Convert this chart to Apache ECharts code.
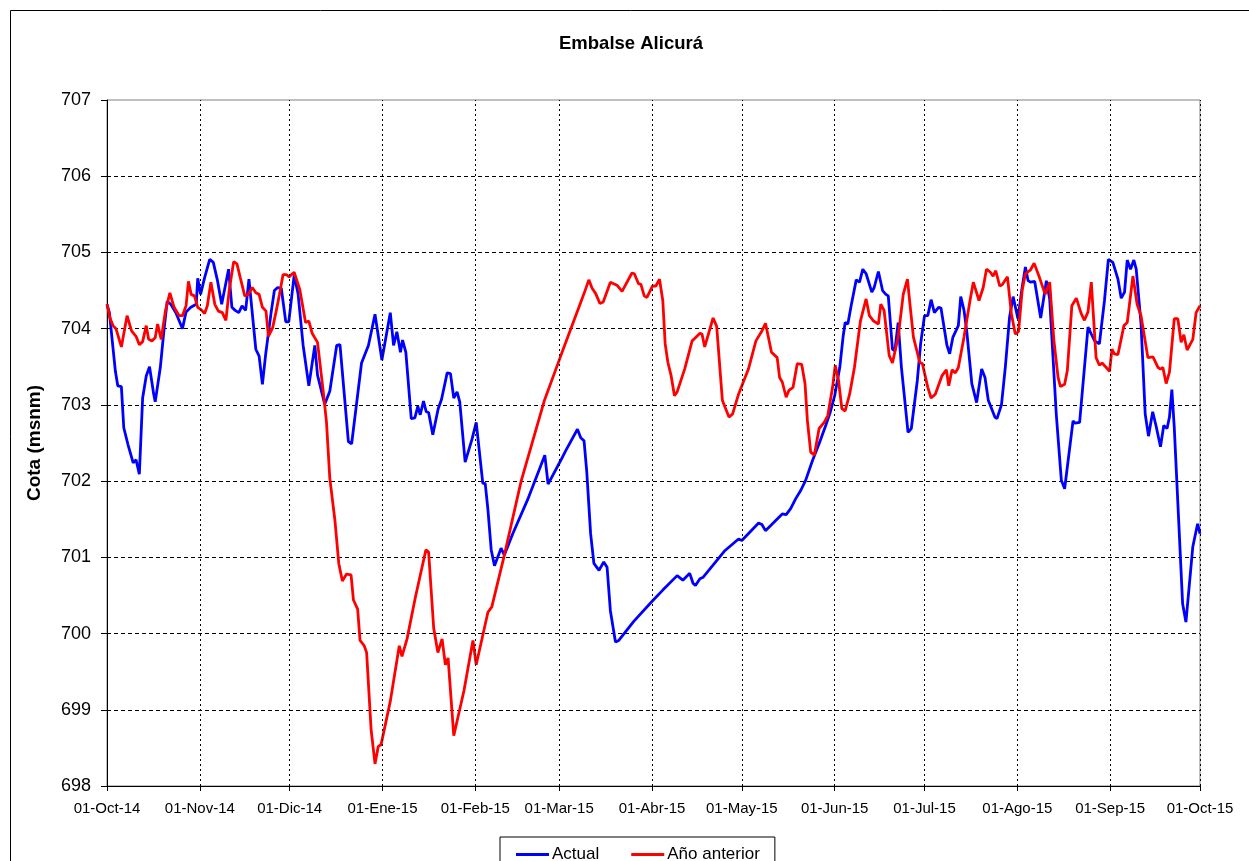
<!DOCTYPE html>
<html>
<head>
<meta charset="utf-8">
<script src="https://cdn.jsdelivr.net/npm/echarts@6/dist/echarts.min.js"></script>
<style>
html,body{margin:0;padding:0;background:#fff;}
#chart{width:1249px;height:861px;}
</style>
</head>
<body>
<div id="chart"></div>
<script>
// Day offsets from 01-Oct-14 and reservoir levels (msnm)
const monthStartDays = [0, 31, 61, 92, 123, 151, 182, 212, 243, 273, 304, 335, 365];
const monthLabels = ['01-Oct-14','01-Nov-14','01-Dic-14','01-Ene-15','01-Feb-15','01-Mar-15','01-Abr-15','01-May-15','01-Jun-15','01-Jul-15','01-Ago-15','01-Sep-15','01-Oct-15'];
const seriesNames = ['Actual', 'Año anterior'];

const actualDays = [0,0.8,2.8,3.6,4.8,5.6,7.0,8.75,9.7,10.8,11.9,13.1,14.2,15.6,16.1,17.8,19.0,20.1,21.3,23.0,25.2,26.4,28.0,29.8,30.3,31.25,32.6,34.3,35.5,36.9,38.3,40.6,41.7,42.8,44.0,45.1,46.3,47.4,48.0,49.7,50.8,51.9,53.0,54.8,55.9,57.0,58.2,59.7,60.7,62.5,63.8,65.5,67.4,69.4,70.3,72.7,74.4,76.7,77.8,80.6,81.7,85.0,87.3,89.5,91.8,94.6,95.7,96.8,98.0,98.7,99.8,101.6,102.8,103.8,104.6,105.7,106.6,107.4,108.8,110.6,111.7,113.6,114.7,115.8,116.9,117.8,119.6,121.9,123.3,125.5,126.3,127.2,128.3,129.4,131.6,132.7,135.5,140.5,146.2,147.3,151.5,153.2,157.1,158.2,159.3,160.2,161.5,162.6,164.3,165.9,167.0,168.1,169.8,170.9,175.9,182.2,185.6,190.4,192.3,194.6,195.7,196.5,198.0,199.1,206.4,210.9,212.0,217.6,218.7,219.9,225.5,226.8,228.3,230.0,231.7,233.3,235.6,237.8,240.1,241.5,243.0,244.7,245.8,246.5,247.4,248.5,250.2,251.3,252.4,253.5,255.4,256.2,257.6,259.0,260.1,260.9,262.3,263.1,264.2,265.3,267.5,268.6,270.6,271.7,273.0,274.1,275.2,276.3,277.7,278.5,280.5,281.4,282.5,284.3,285.1,286.2,287.1,288.8,290.4,292.1,293.2,294.3,296.5,297.2,298.7,300.0,301.4,302.6,304.2,305.6,306.7,307.6,308.4,309.8,311.8,313.7,314.8,317.0,318.7,319.8,322.6,323.3,324.8,327.6,328.7,329.8,331.4,333.1,334.4,335.9,337.6,338.7,339.8,340.7,341.8,342.9,343.7,345.3,346.7,347.8,349.2,350.3,351.8,352.9,354.0,354.8,355.6,356.4,359.2,360.3,362.6,364.2,365];
const actualValues = [704.32,704.21,703.44,703.25,703.24,702.70,702.48,702.24,702.28,702.09,703.09,703.38,703.50,703.14,703.04,703.49,703.97,704.36,704.32,704.21,704.00,704.22,704.28,704.32,704.66,704.45,704.67,704.91,704.87,704.63,704.32,704.78,704.28,704.24,704.21,704.30,704.24,704.65,704.41,703.73,703.64,703.27,703.67,704.21,704.50,704.54,704.53,704.09,704.09,704.70,704.46,703.78,703.25,703.78,703.39,703.01,703.18,703.78,703.79,702.52,702.49,703.55,703.78,704.19,703.59,704.21,703.78,703.96,703.69,703.85,703.69,702.82,702.83,702.98,702.87,703.05,702.91,702.90,702.61,702.95,703.07,703.42,703.41,703.09,703.17,703.04,702.25,702.55,702.77,701.97,701.97,701.63,701.10,700.89,701.12,701.03,701.31,701.76,702.34,701.96,702.27,702.40,702.68,702.57,702.53,702.13,701.31,700.92,700.83,700.94,700.87,700.30,699.89,699.91,700.16,700.43,700.57,700.76,700.70,700.79,700.66,700.63,700.72,700.74,701.09,701.24,701.22,701.45,701.43,701.35,701.57,701.56,701.64,701.77,701.88,702.01,702.27,702.49,702.74,702.90,703.12,703.49,703.89,704.08,704.06,704.30,704.64,704.61,704.78,704.72,704.48,704.54,704.75,704.50,704.45,704.43,703.73,703.71,704.08,703.49,702.64,702.69,703.32,703.80,704.17,704.17,704.38,704.21,704.28,704.27,703.78,703.67,703.89,704.04,704.42,704.24,703.97,703.28,703.03,703.47,703.36,703.06,702.84,702.82,703.00,703.50,704.15,704.42,704.13,704.54,704.81,704.63,704.61,704.62,704.14,704.63,704.39,702.88,702.01,701.90,702.79,702.76,702.77,704.02,703.93,703.84,703.80,704.37,704.91,704.87,704.65,704.40,704.48,704.90,704.78,704.90,704.78,704.07,702.88,702.59,702.91,702.73,702.45,702.73,702.69,702.84,703.20,702.71,700.39,700.15,701.14,701.44,701.31];

const anteriorDays = [0,1,2,3,4.8,6.7,8.2,9.7,10.8,11.9,13.1,13.9,15.0,16.1,16.9,18.1,19.5,21.0,22.4,24.1,25.2,26.4,27.2,28.1,29.2,30.3,31.4,32.6,33.5,34.7,36.0,37.2,38.5,39.7,40.8,42.3,43.4,44.5,46.0,47.2,48.5,49.7,50.8,51.9,53.1,53.9,55.3,56.5,57.6,58.8,59.9,60.8,62.5,64.4,66.3,67.4,68.5,70.3,72.2,73.3,74.4,76.1,77.4,78.6,80.0,81.5,82.3,83.7,84.5,85.9,86.7,88.2,89.5,90.6,91.5,94.6,97.6,98.5,100.2,103.0,106.5,107.4,109.1,110.5,111.9,113.0,113.9,115.8,119.2,122.2,123.3,127.2,128.5,132.7,138.3,146.0,151.5,159.3,160.9,162.0,163.2,164.6,165.7,168.1,170.3,172.0,175.3,176.1,177.5,178.3,179.4,180.3,182.2,183.3,184.5,185.6,186.4,187.3,188.4,189.5,190.4,192.9,195.4,196.5,198.0,198.7,199.6,202.4,203.6,205.5,206.4,207.7,208.9,210.9,214.2,216.7,218.7,219.9,221.9,223.8,224.6,225.5,226.8,227.7,229.1,230.5,232.0,233.1,233.9,235.0,236.2,237.8,239.5,240.7,242.3,243.2,244.3,245.4,246.5,248.0,249.6,251.6,253.5,254.6,256.0,257.6,258.4,259.5,261.2,262.3,264.2,265.9,267.3,268.2,269.3,271.4,272.3,274.1,275.2,276.6,278.8,280.3,281.1,282.2,283.3,284.3,286.2,288.2,289.3,289.9,291.2,292.6,293.7,295.0,295.9,296.8,298.1,299.0,300.7,302.0,303.3,304.4,305.6,306.7,308.4,309.6,311.4,313.3,314.8,316.2,317.6,318.4,319.8,320.7,322.2,323.7,325.3,326.4,327.6,328.7,330.3,331.4,332.3,333.7,334.8,335.6,336.4,337.6,339.6,340.7,342.6,344.0,345.3,347.6,349.3,351.0,351.8,352.6,353.7,354.8,356.4,357.6,358.7,359.6,360.7,362.6,363.7,365.0];
const anteriorValues = [704.32,704.14,704.04,704.00,703.76,704.17,703.97,703.90,703.79,703.83,704.04,703.86,703.84,703.88,704.06,703.86,704.23,704.47,704.28,704.17,704.17,704.30,704.62,704.45,704.43,704.28,704.25,704.20,704.30,704.61,704.32,704.23,704.21,704.11,704.50,704.88,704.85,704.67,704.43,704.45,704.54,704.47,704.45,704.28,704.23,703.90,704.01,704.23,704.45,704.71,704.71,704.68,704.74,704.51,704.08,704.10,703.94,703.82,703.18,702.77,702.04,701.49,700.92,700.69,700.78,700.77,700.44,700.32,699.91,699.84,699.75,698.74,698.29,698.52,698.54,699.11,699.84,699.70,699.93,700.48,701.10,701.07,700.07,699.75,699.93,699.59,699.68,698.66,699.25,699.91,699.59,700.28,700.35,701.03,702.00,703.05,703.64,704.46,704.64,704.53,704.46,704.33,704.35,704.61,704.57,704.49,704.73,704.72,704.59,704.58,704.43,704.41,704.56,704.56,704.65,704.37,703.80,703.56,703.38,703.12,703.17,703.47,703.84,703.88,703.94,703.93,703.76,704.14,704.03,703.06,702.97,702.84,702.88,703.14,703.47,703.84,703.97,704.07,703.69,703.62,703.36,703.30,703.10,703.19,703.23,703.54,703.53,703.28,702.79,702.38,702.34,702.69,702.77,702.86,703.23,703.52,703.32,702.95,702.92,703.14,703.49,704.10,704.39,704.17,704.10,704.06,704.32,704.24,703.65,703.55,703.89,704.45,704.65,704.30,703.89,703.56,703.54,703.23,703.09,703.14,703.38,703.46,703.25,703.46,703.42,703.49,703.89,704.37,704.61,704.60,704.37,704.54,704.78,704.74,704.69,704.76,704.56,704.58,704.68,704.20,703.93,703.96,704.50,704.72,704.77,704.86,704.67,704.45,704.61,703.85,703.36,703.24,703.27,703.45,704.30,704.40,704.20,704.11,704.22,704.61,703.62,703.52,703.55,703.49,703.44,703.73,703.67,703.66,704.04,704.08,704.69,704.32,704.17,703.62,703.63,703.49,703.47,703.49,703.28,703.43,704.13,704.13,703.82,703.92,703.72,703.86,704.21,704.30];

const toPairs = (d, v) => d.map((x, i) => [x, v[i]]);
const fontFam = '"Liberation Sans", Arial, sans-serif';

const chart = echarts.init(document.getElementById('chart'), null, {renderer: 'canvas'});
chart.setOption({
  animation: false,
  backgroundColor: '#fff',
  textStyle: {fontFamily: fontFam, color: '#000'},
  graphic: [{
    type: 'rect', silent: true, z: -10,
    shape: {x: 10.5, y: 10.5, width: 1300, height: 900},
    style: {fill: 'none', stroke: '#000', lineWidth: 1}
  }],
  title: {
    text: 'Embalse Alicurá',
    left: 631, top: 34, textAlign: 'center', padding: 0,
    textStyle: {fontFamily: fontFam, fontSize: 18.5, fontWeight: 'bold', color: '#000'}
  },
  legend: {
    data: seriesNames,
    left: 500, top: 837,
    orient: 'horizontal',
    backgroundColor: '#fff',
    borderColor: '#000', borderWidth: 1,
    padding: [9, 15, 10, 16],
    itemGap: 32,
    itemWidth: 33, itemHeight: 3,
    icon: 'rect',
    textStyle: {fontFamily: fontFam, fontSize: 17, color: '#000', padding: [0,0,0,-2]}
  },
  grid: {
    left: 107, right: 49, top: 100, bottom: 75,
    show: true, borderColor: '#808080', borderWidth: 1, backgroundColor: 'transparent'
  },
  xAxis: {
    type: 'value', min: 0, max: 365,
    axisLine: {show: true, onZero: false, lineStyle: {color: '#000', width: 1}},
    axisTick: {show: true, customValues: monthStartDays, length: 5, lineStyle: {color: '#000'}},
    axisLabel: {
      customValues: monthStartDays,
      fontFamily: fontFam, fontSize: 15, color: '#000', margin: 15,
      formatter: v => monthLabels[monthStartDays.indexOf(Math.round(v))] || ''
    },
    splitLine: {show: false}
  },
  yAxis: {
    type: 'value', min: 698, max: 707, interval: 1,
    name: 'Cota (msnm)', nameLocation: 'middle', nameGap: 63,
    nameTextStyle: {fontFamily: fontFam, fontSize: 19, fontWeight: 'bold', color: '#000'},
    axisLine: {show: true, lineStyle: {color: '#000', width: 1}},
    axisTick: {show: true, length: 6, lineStyle: {color: '#000'}},
    axisLabel: {fontFamily: fontFam, fontSize: 18, color: '#000', margin: 16},
    splitLine: {show: true, showMinLine: false, showMaxLine: false, lineStyle: {color: '#000', type: [4, 3], width: 1}}
  },
  series: [
    {
      name: '__grid', type: 'line', data: [], silent: true, z: 1,
      markLine: {
        silent: true, symbol: ['none', 'none'],
        label: {show: false},
        lineStyle: {color: '#000', type: [2, 3], width: 1},
        emphasis: {disabled: true},
        data: monthStartDays.slice(1).map(d => ({xAxis: d}))
      }
    },
    {
      name: seriesNames[0], type: 'line', z: 3,
      data: toPairs(actualDays, actualValues),
      showSymbol: false, symbol: 'none',
      lineStyle: {color: '#0000FF', width: 2.8},
      itemStyle: {color: '#0000FF'}
    },
    {
      name: seriesNames[1], type: 'line', z: 4,
      data: toPairs(anteriorDays, anteriorValues),
      showSymbol: false, symbol: 'none',
      lineStyle: {color: '#FF0000', width: 2.8},
      itemStyle: {color: '#FF0000'}
    }
  ]
});
</script>
</body>
</html>
